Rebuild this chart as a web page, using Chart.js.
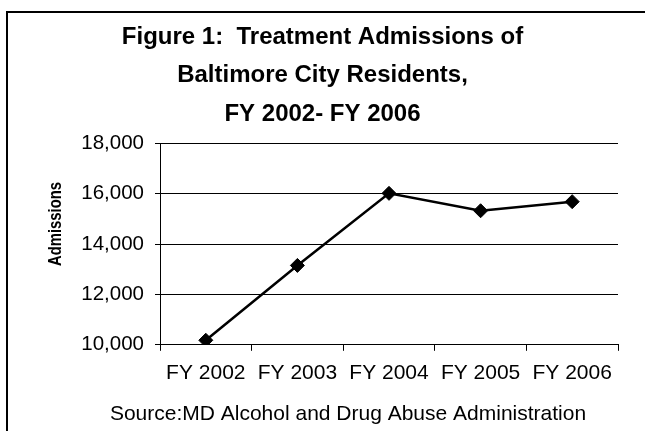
<!DOCTYPE html>
<html>
<head>
<meta charset="utf-8">
<title>Treatment Admissions</title>
<script src="https://cdn.jsdelivr.net/npm/chart.js@4.4.1/dist/chart.umd.min.js"></script>
<style>
    html, body { margin: 0; padding: 0; background: #fff; overflow: hidden; }
    #wrap { position: relative; width: 645px; height: 431px; }
    #frame {
        position: absolute; left: 6px; top: 11px; width: 700px; height: 500px;
        border: 2px solid #000; pointer-events: none;
    }
</style>
</head>
<body>
<div id="wrap">
    <canvas id="admissionsChart" width="645" height="431"></canvas>
    <div id="frame"></div>
</div>
<script>
/**
 * Treatment admissions, Baltimore City residents, FY 2002 - FY 2006
 */

const fiscalYears = ['FY 2002', 'FY 2003', 'FY 2004', 'FY 2005', 'FY 2006'];
const admissions  = [10180, 13150, 16010, 15320, 15680];
const yTicks      = [10000, 12000, 14000, 16000, 18000];

const FONT = "'Liberation Sans', Arial, sans-serif";
const SOURCE_NOTE = 'Source:MD Alcohol and Drug Abuse Administration';

let admissionsChart = null;

// axis title and source note are placed by hand (neither is centred on the plot)
const sideLabels = {
    id: 'sideLabels',
    afterDraw(chart) {
        const { ctx } = chart;
        ctx.save();
        ctx.fillStyle = '#000';
        ctx.textAlign = 'center';
        ctx.textBaseline = 'middle';

        // rotated, slightly condensed bold title for the value axis
        ctx.save();
        ctx.translate(56, 224);
        ctx.rotate(-Math.PI / 2);
        ctx.scale(0.78, 1);
        ctx.font = 'bold 19px ' + FONT;
        ctx.fillText('Admissions', 0, 0);
        ctx.restore();

        ctx.font = '21px ' + FONT;
        ctx.fillText(SOURCE_NOTE, 348, 414);
        ctx.restore();
    }
};

document.addEventListener('DOMContentLoaded', function () {
    const ctx = document.getElementById('admissionsChart');

    admissionsChart = new Chart(ctx, {
        type: 'line',
        data: {
            labels: fiscalYears,
            datasets: [{
                label: 'Admissions',
                data: admissions,
                borderColor: '#000',
                backgroundColor: '#000',
                borderWidth: 2.5,
                pointStyle: 'rectRot',
                pointRadius: 7,
                pointBorderWidth: 1,
                pointBackgroundColor: '#000',
                pointBorderColor: '#000',
                tension: 0
            }]
        },
        options: {
            responsive: false,
            animation: false,
            layout: { padding: { left: 27, right: 27, top: 0, bottom: 35 } },
            plugins: {
                legend: { display: false },
                tooltip: { enabled: false },
                title: {
                    display: true,
                    text: ['Figure 1:  Treatment Admissions of', 'Baltimore City Residents,', 'FY 2002- FY 2006'],
                    color: '#000',
                    font: { family: FONT, size: 24, weight: 'bold', lineHeight: 1.6 },
                    padding: { top: 18, bottom: 10 }
                }
            },
            scales: {
                x: {
                    offset: true,
                    grid: {
                        offset: true,
                        drawOnChartArea: false,
                        color: '#000',
                        tickLength: 6
                    },
                    border: { color: '#000', width: 1 },
                    ticks: {
                        color: '#000',
                        padding: 10,
                        maxRotation: 0,
                        font: { family: FONT, size: 21 }
                    }
                },
                y: {
                    min: yTicks[0],
                    max: yTicks[yTicks.length - 1],
                    afterBuildTicks: scale => {
                        scale.ticks = yTicks.map(v => ({ value: v }));
                    },
                    afterFit: scale => { scale.width = 133; },
                    grid: { color: '#000', tickLength: 5 },
                    border: { color: '#000', width: 1 },
                    ticks: {
                        color: '#000',
                        padding: 11,
                        font: { family: FONT, size: 20.5 },
                        callback: v => v.toLocaleString('en-US')
                    }
                }
            }
        },
        plugins: [sideLabels]
    });
});
</script>
</body>
</html>
